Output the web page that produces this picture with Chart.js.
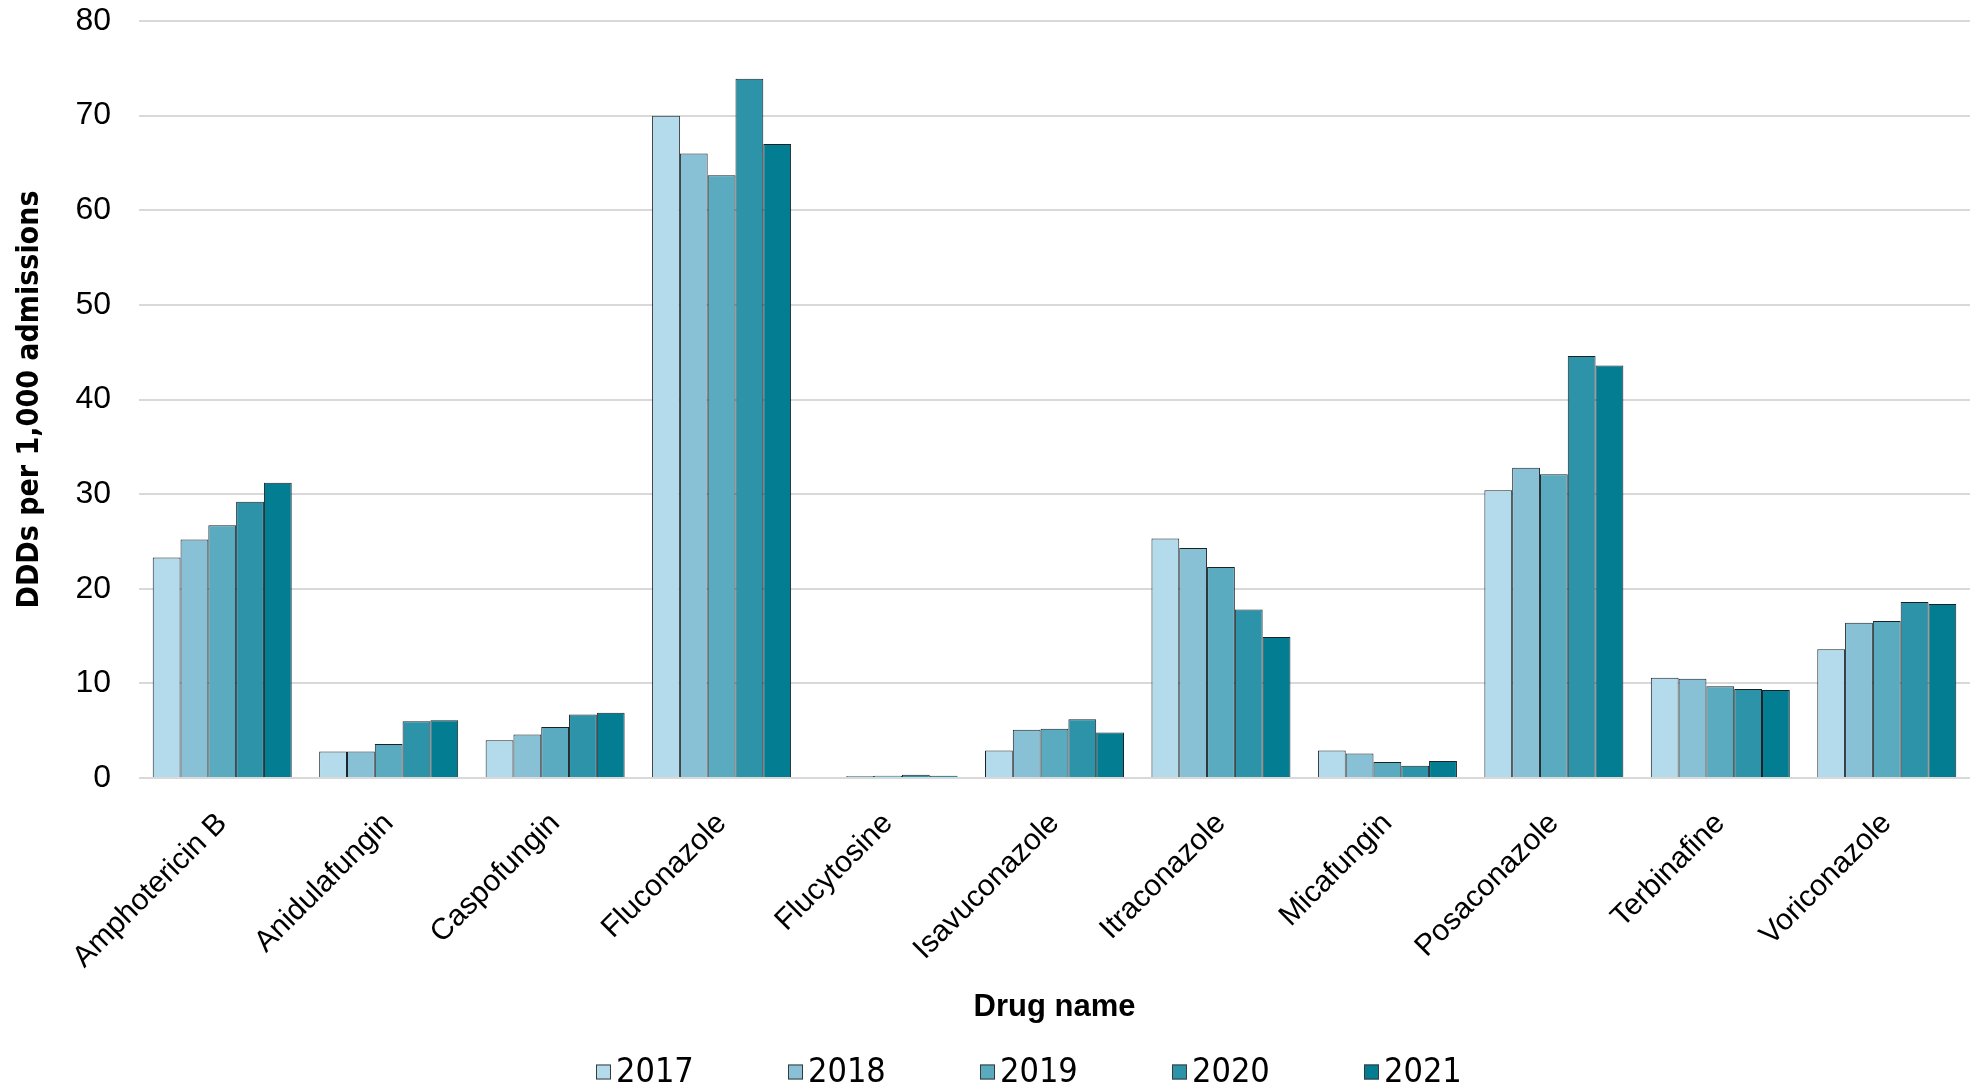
<!DOCTYPE html>
<html>
<head>
<meta charset="utf-8">
<script src="https://cdn.jsdelivr.net/npm/chart.js@4/dist/chart.umd.min.js"></script>
<style>
  html, body { margin: 0; padding: 0; background: #ffffff; }
  #wrap { width: 1980px; height: 1090px; }
</style>
</head>
<body>
<div id="wrap"><canvas id="c" width="1980" height="1090"></canvas></div>
<script>
// Antifungal use, DDDs per 1,000 admissions, by drug and year
const drugs = ['Amphotericin B', 'Anidulafungin', 'Caspofungin', 'Fluconazole', 'Flucytosine',
  'Isavuconazole', 'Itraconazole', 'Micafungin', 'Posaconazole', 'Terbinafine', 'Voriconazole'];
const years = ['2017', '2018', '2019', '2020', '2021'];

const y2017 = [23.3, 2.8, 4.0, 70.0, 0.1, 2.9, 25.3, 2.9, 30.4, 10.6, 13.6];
const y2018 = [25.2, 2.8, 4.6, 66.0, 0.2, 5.1, 24.3, 2.6, 32.8, 10.5, 16.4];
const y2019 = [26.7, 3.6, 5.4, 63.7, 0.25, 5.2, 22.3, 1.7, 32.1, 9.7, 16.6];
const y2020 = [29.2, 6.0, 6.7, 73.9, 0.35, 6.2, 17.8, 1.3, 44.6, 9.4, 18.6];
const y2021 = [31.2, 6.1, 6.9, 67.0, 0.25, 4.8, 14.9, 1.8, 43.6, 9.3, 18.4];

const yTicks = [0, 10, 20, 30, 40, 50, 60, 70, 80];

const fills = ['#b4dbec', '#88c1d6', '#5aaac0', '#2d93a9', '#027d92'];
const series = [y2017, y2018, y2019, y2020, y2021];

const narrow = "'Liberation Sans Narrow', 'DejaVu Sans Condensed', 'Arial Narrow', sans-serif";
const regular = "'Liberation Sans', Arial, sans-serif";

// Legend drawn in the reserved strip under the axis title
const yearLegend = {
  id: 'yearLegend',
  afterDraw(chart) {
    const ctx = chart.ctx;
    const startX = 596, step = 192, cy = 1072, box = 15;
    ctx.save();
    ctx.font = '34px ' + narrow;
    ctx.textBaseline = 'middle';
    ctx.textAlign = 'left';
    chart.data.datasets.forEach((ds, i) => {
      const x = startX + i * step;
      ctx.fillStyle = ds.backgroundColor;
      ctx.fillRect(x, cy - box / 2, box, box);
      ctx.strokeStyle = '#3a3a3a';
      ctx.lineWidth = 1;
      ctx.strokeRect(x + 0.5, cy - box / 2 + 0.5, box - 1, box - 1);
      ctx.fillStyle = '#000000';
      ctx.fillText(ds.label, x + box + 5, cy + 1);
    });
    ctx.restore();
  }
};

new Chart(document.getElementById('c'), {
  type: 'bar',
  data: {
    labels: drugs,
    datasets: years.map((yr, i) => ({
      label: yr,
      data: series[i],
      backgroundColor: fills[i],
      borderColor: '#1a2226',
      borderWidth: 1,
      borderSkipped: 'bottom',
      categoryPercentage: 0.835,
      barPercentage: 1.0
    }))
  },
  options: {
    responsive: false,
    animation: false,
    devicePixelRatio: 1,
    layout: { padding: { top: 21, right: 10, bottom: 55, left: 0 } },
    plugins: {
      legend: { display: false },
      tooltip: { enabled: false }
    },
    scales: {
      x: {
        grid: { display: false },
        border: { display: false },
        ticks: {
          color: '#000000',
          font: { family: regular, size: 30 },
          minRotation: 45,
          maxRotation: 45,
          padding: 20,
          autoSkip: false
        },
        title: {
          display: true,
          text: 'Drug name',
          color: '#000000',
          font: { family: regular, size: 31, weight: 'bold' },
          padding: { top: 0, bottom: 9 }
        },
        afterFit(scale) {
          scale.height = 1090 - 55 - 778;
          scale.paddingLeft = 0;
          scale.paddingRight = 0;
        }
      },
      y: {
        min: 0,
        max: 80,
        afterBuildTicks(scale) { scale.ticks = yTicks.map(v => ({ value: v })); },
        grid: { color: '#d9d9d9', lineWidth: 2, drawTicks: false },
        border: { display: false },
        ticks: {
          color: '#000000',
          font: { family: regular, size: 32 },
          padding: 28
        },
        title: {
          display: true,
          text: 'DDDs per 1,000 admissions',
          color: '#000000',
          font: { family: narrow, size: 30, weight: 'bold' },
          padding: { top: 12, bottom: 0 }
        },
        afterFit(scale) {
          scale.width = 139;
          scale.paddingTop = 0;
          scale.paddingBottom = 0;
        }
      }
    }
  },
  plugins: [yearLegend]
});
</script>
</body>
</html>
